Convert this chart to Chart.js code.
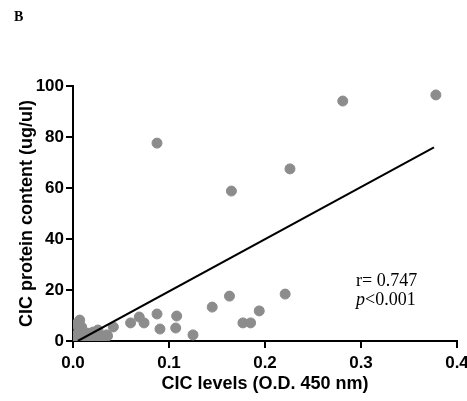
<!DOCTYPE html>
<html>
<head>
<meta charset="utf-8">
<script src="https://cdn.jsdelivr.net/npm/chart.js@4/dist/chart.umd.min.js"></script>
<style>
  html, body { margin: 0; padding: 0; background: #fff; }
  #wrap { position: relative; width: 467px; height: 401px; }
</style>
</head>
<body>
<div id="wrap"><canvas id="chart" width="467" height="401"></canvas></div>
<script>
// CIC levels (x) vs CIC protein content (y)
var cicLevels = [0.378, 0.281, 0.0875, 0.226, 0.165, 0.163, 0.221, 0.145, 0.194, 0.177, 0.185,
  0.0875, 0.108, 0.0906, 0.107, 0.125, 0.060, 0.069, 0.074, 0.042,
  0.007, 0.009, 0.000, 0.004, 0.015, 0.025, 0.031, 0.036, 0.021, 0.010, 0.021, 0.026, 0.035,
  0.003, 0.012, 0.018, 0.006, 0.028, 0.002, 0.005];
var proteinContent = [96.5, 94.1, 77.6, 67.5, 58.8, 17.6, 18.4, 13.3, 11.8, 7.1, 7.1,
  10.6, 9.8, 4.7, 5.1, 2.4, 7.1, 9.4, 7.1, 5.5,
  8.2, 5.5, 0.0, 2.4, 3.1, 2.4, 1.6, 2.0, 1.2, 1.0, 3.5, 4.3, 2.4,
  6.5, 0.5, 0.8, 3.8, 0.6, 1.5, 0.3];

// regression line end points
var fitX = [0.005, 0.376];
var fitY = [0.0, 75.9];

var xTicks = [0.0, 0.1, 0.2, 0.3, 0.4];
var yTicks = [0, 20, 40, 60, 80, 100];

var scatterData = cicLevels.map(function (x, i) { return { x: x, y: proteinContent[i] }; });
var lineData = fitX.map(function (x, i) { return { x: x, y: fitY[i] }; });

// stats text and panel letter drawn on top
var textPlugin = {
  id: 'textPlugin',
  afterDraw: function (chart) {
    var ctx = chart.ctx;
    ctx.save();
    ctx.fillStyle = '#000';
    ctx.textBaseline = 'alphabetic';
    ctx.textAlign = 'left';
    ctx.font = 'bold 14px "Liberation Serif", "DejaVu Serif", serif';
    ctx.fillText('B', 14, 21);
    ctx.font = '18px "Liberation Serif", "DejaVu Serif", serif';
    ctx.fillText('r= 0.747', 356, 286);
    ctx.font = 'italic 18px "Liberation Serif", "DejaVu Serif", serif';
    ctx.fillText('p', 356, 305);
    var w = ctx.measureText('p').width;
    ctx.font = '18px "Liberation Serif", "DejaVu Serif", serif';
    ctx.fillText('<0.001', 356 + w, 305);
    ctx.restore();
  }
};

var config = {
  type: 'scatter',
  data: {
    datasets: [
      {
        label: 'CIC',
        data: scatterData,
        backgroundColor: '#8c8c8c',
        borderColor: '#8c8c8c',
        pointRadius: 5,
        pointHoverRadius: 5,
        order: 2
      },
      {
        type: 'line',
        label: 'fit',
        data: lineData,
        borderColor: '#000',
        borderWidth: 2,
        pointRadius: 0,
        fill: false,
        order: 1
      }
    ]
  },
  options: {
    responsive: false,
    animation: false,
    layout: { padding: { left: 0, right: 10, top: 86, bottom: 6 } },
    plugins: {
      legend: { display: false },
      tooltip: { enabled: false }
    },
    scales: {
      x: {
        type: 'linear',
        min: 0,
        max: 0.4,
        afterBuildTicks: function (axis) { axis.ticks = xTicks.map(function (v) { return { value: v }; }); },
        afterFit: function (axis) { axis.height = 54; axis.paddingRight = 0; axis.paddingLeft = 0; },
        border: { display: true, color: '#000', width: 2 },
        grid: { display: true, drawOnChartArea: false, drawTicks: true, tickLength: 7, color: '#000', lineWidth: 2 },
        ticks: {
          color: '#000',
          padding: 5,
          maxRotation: 0,
          font: { family: 'Liberation Sans, Arial, sans-serif', size: 17, weight: 'bold' },
          callback: function (v) { return v.toFixed(1); }
        },
        title: {
          display: true,
          text: 'CIC levels (O.D. 450 nm)',
          color: '#000',
          padding: { top: 0, bottom: 0 },
          font: { family: 'Liberation Sans, Arial, sans-serif', size: 18, weight: 'bold' }
        }
      },
      y: {
        type: 'linear',
        min: 0,
        max: 100,
        afterBuildTicks: function (axis) { axis.ticks = yTicks.map(function (v) { return { value: v }; }); },
        afterFit: function (axis) { axis.width = 73; axis.paddingTop = 0; axis.paddingBottom = 0; },
        border: { display: true, color: '#000', width: 2 },
        grid: { display: true, drawOnChartArea: false, drawTicks: true, tickLength: 7, color: '#000', lineWidth: 2 },
        ticks: {
          color: '#000',
          padding: 2,
          font: { family: 'Liberation Sans, Arial, sans-serif', size: 17, weight: 'bold' }
        },
        title: {
          display: true,
          text: 'CIC protein content (ug/ul)',
          color: '#000',
          padding: { top: 16, bottom: 0 },
          font: { family: 'Liberation Sans, Arial, sans-serif', size: 18, weight: 'bold' }
        }
      }
    }
  },
  plugins: [textPlugin]
};

var myChart = new Chart(document.getElementById('chart'), config);
</script>
</body>
</html>
